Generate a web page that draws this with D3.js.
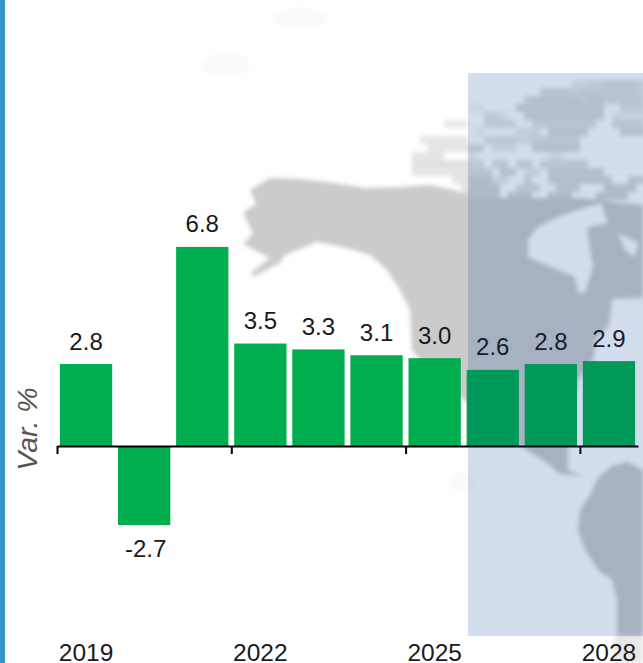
<!DOCTYPE html>
<html>
<head>
<meta charset="utf-8">
<script src="https://cdn.jsdelivr.net/npm/d3@7"></script>
<style>
html,body{margin:0;padding:0;background:#fff;overflow:hidden}
svg{display:block}
text{font-family:"Liberation Sans",Arial,sans-serif}
</style>
</head>
<body>
<svg id="chart" width="643" height="663"></svg>
<script>
const years = [2019,2020,2021,2022,2023,2024,2025,2026,2027,2028];
const values = [2.8,-2.7,6.8,3.5,3.3,3.1,3.0,2.6,2.8,2.9];
const labelTexts = ["2.8","-2.7","6.8","3.5","3.3","3.1","3.0","2.6","2.8","2.9"];
const tickYears = [2019,2022,2025,2028];

// Decorative world-map backdrop, traced in page pixels
const landMain = [[250,190],[270,178],[300,179],[335,183],[365,188],[400,187],[430,185],[455,190],[468,198],[490,198],[510,198],[530,198],[560,198],[580,198],[600,200],[620,203],[643,205],[643,298],[612,299],[609,325],[596,340],[594,358],[578,380],[570,420],[568,447],[568,470],[582,476],[560,474],[547,463],[522,447],[505,440],[468,403],[432,375],[412,350],[410,310],[400,290],[387,270],[370,255],[343,247],[317,242],[297,250],[284,256],[280,263],[253,277],[251,273],[270,258],[243,244],[253,233],[243,213],[256,204]];
const landHoles = [
  [[538,227],[558,217],[578,210],[601,203],[608,223],[588,227],[588,237],[593,267],[585,293],[578,293],[575,277],[551,267],[528,257],[528,240]],
  [[618,233],[638,243],[635,257],[625,250]]
];
const landSouth = [[600,476],[612,466],[628,462],[643,470],[643,636],[617,636],[617,600],[612,580],[598,570],[585,550],[578,530],[580,510],[590,495],[597,480]];
const landSouthTail = [[614,637],[643,637],[643,663],[614,663]];
// Arctic archipelago as coarse opacity cells (tenths), one string per row
const arcticOriginX = 404, arcticOriginY = 80, arcticCell = 8;
const arcticRows = [
  "000000000000000000000445566665",
  "000000000000000006666566666665",
  "000000000000000677777767766666",
  "000000002200007777777777700555",
  "000000000055300777777777703333",
  "000004440055550066666666006666",
  "000000000300004440777770000777",
  "005555550055554466666600000000",
  "000555556604440077777700000000",
  "055550003000000000330000000000",
  "066666665506606606666660000000",
  "055555556660770440777777700000",
  "000000558884400600777777770077",
  "000000058888006660077700088880",
  "000000088888088800888000888800"
];
const faintBlobs = [[462,483,13,10],[225,65,25,12],[300,18,28,10]];

const y = d3.scaleLinear().domain([-2.7,6.8]).range([525.1,246.9]);
const band = d3.scaleBand().domain(years).range([57,638]).paddingInner(0.1).paddingOuter(0.05);
const yearAxisScale = d3.scaleLinear().domain([2019,2029]).range([57,638]);

const svg = d3.select("#chart");
const defs = svg.append("defs");
defs.append("filter").attr("id","soft").attr("filterUnits","userSpaceOnUse")
  .attr("x",0).attr("y",0).attr("width",643).attr("height",663)
  .append("feGaussianBlur").attr("stdDeviation",2);

const toPath = pts => d3.line()(pts) + "Z";
const map = svg.append("g").attr("filter","url(#soft)");
map.append("path").attr("fill","#cbcbcb").attr("fill-rule","evenodd")
  .attr("d", toPath(landMain) + landHoles.map(toPath).join(""));
map.append("path").attr("fill","#cbcbcb").attr("d", toPath(landSouth));
map.append("path").attr("fill","#cbcbcb").attr("fill-opacity",0.45).attr("d", toPath(landSouthTail));
const cells = arcticRows.flatMap((row,r)=>Array.from(row,(c,k)=>({r,k,o:+c/10}))).filter(d=>d.o>0);
map.selectAll("rect.cell").data(cells).join("rect").attr("class","cell")
  .attr("x",d=>arcticOriginX+d.k*arcticCell).attr("y",d=>arcticOriginY+d.r*arcticCell)
  .attr("width",arcticCell).attr("height",arcticCell)
  .attr("fill","#cbcbcb").attr("fill-opacity",d=>d.o);
map.selectAll("ellipse").data(faintBlobs).join("ellipse")
  .attr("cx",d=>d[0]).attr("cy",d=>d[1]).attr("rx",d=>d[2]).attr("ry",d=>d[3])
  .attr("fill","#cbcbcb").attr("fill-opacity",0.07);

svg.append("rect").attr("x",0).attr("y",0).attr("width",5).attr("height",663).attr("fill","#3595c8");

svg.append("g").selectAll("rect").data(years).join("rect")
  .attr("x",d=>band(d))
  .attr("width",band.bandwidth())
  .attr("y",(d,i)=>y(Math.max(0,values[i])))
  .attr("height",(d,i)=>Math.abs(y(values[i])-y(0)))
  .attr("fill","#00ae4f");

const axis = d3.axisBottom(yearAxisScale).tickValues(tickYears).tickSize(8).tickSizeOuter(0).tickFormat("");
const axG = svg.append("g").attr("transform",`translate(0,${y(0)})`).call(axis);
axG.selectAll("path,line").attr("stroke","#000").attr("stroke-width",2);

svg.append("g").selectAll("text").data(years).join("text")
  .attr("x",d=>band(d)+band.bandwidth()/2+(d===2020?1.5:0))
  .attr("y",(d,i)=>values[i]>=0 ? y(values[i])-14.5 : y(values[i])+32)
  .attr("text-anchor","middle").attr("font-size",24).attr("fill","#1a1a1a")
  .text((d,i)=>labelTexts[i]);

svg.append("g").selectAll("text").data(tickYears).join("text")
  .attr("x",d=>band(d)+band.bandwidth()/2)
  .attr("y",660.5)
  .attr("text-anchor","middle").attr("font-size",24.5).attr("fill","#1a1a1a")
  .text(d=>d);

svg.append("text").attr("transform","translate(37,429) rotate(-90)")
  .attr("text-anchor","middle").attr("font-size",28.5).attr("font-style","italic").attr("fill","#555")
  .text("Var. %");

// Forecast panel tints everything beneath it
svg.append("rect").attr("x",468).attr("y",73).attr("width",175).attr("height",563)
  .attr("fill","rgb(0,55,150)").attr("fill-opacity",0.17);
</script>
</body>
</html>
